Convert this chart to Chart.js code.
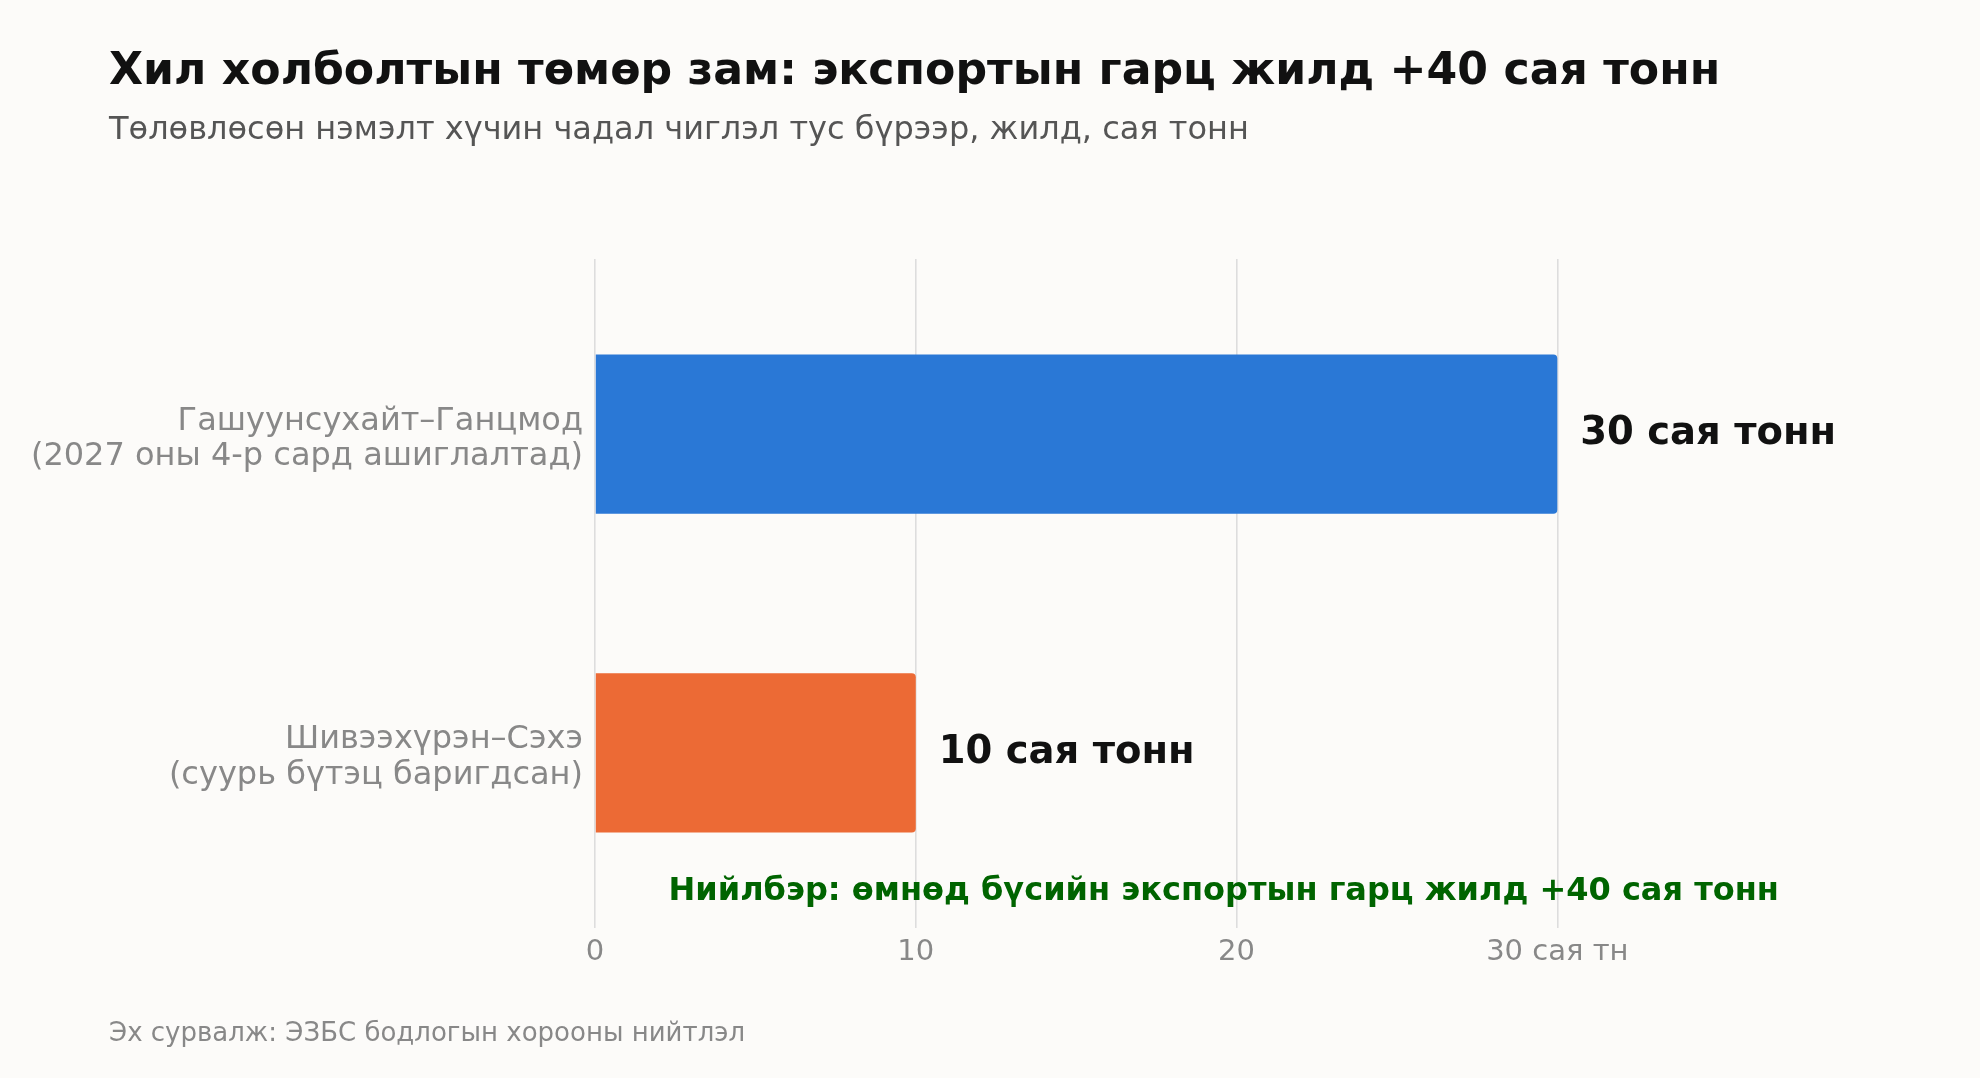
<!DOCTYPE html>
<html>
<head>
<meta charset="utf-8">
<script src="https://cdn.jsdelivr.net/npm/chart.js@4"></script>
<style>
  html, body { margin: 0; padding: 0; background: #fcfbf9; }
  #wrap { width: 1980px; height: 1078px; position: relative; }
</style>
</head>
<body>
<div id="wrap"><canvas id="myChart"></canvas></div>
<script>
// data
const routes = ['Гашуунсухайт–Ганцмод', 'Шивээхүрэн–Сэхэ'];
const routeNotes = ['(2027 оны 4-р сард ашиглалтад)', '(суурь бүтэц баригдсан)'];
const capacity = [30, 10];
const barColors = ['#2a78d6', '#ec6a35'];
const xTickValues = [0, 10, 20, 30];
const xTickLabels = ['0', '10', '20', '30 сая тн'];

const titleText = 'Хил холболтын төмөр зам: экспортын гарц жилд +40 сая тонн';
const subtitleText = 'Төлөвлөсөн нэмэлт хүчин чадал чиглэл тус бүрээр, жилд, сая тонн';
const totalNote = 'Нийлбэр: өмнөд бүсийн экспортын гарц жилд +40 сая тонн';
const sourceText = 'Эх сурвалж: ЭЗБС бодлогын хорооны нийтлэл';

const FONT = '"DejaVu Sans", sans-serif';

const textPlugin = {
    id: 'texts',
    afterDraw(chart) {
        const ctx = chart.ctx;
        const x = chart.scales.x;
        const y = chart.scales.y;
        ctx.save();
        ctx.textBaseline = 'middle';

        ctx.textAlign = 'left';
        ctx.fillStyle = '#111111';
        ctx.font = 'bold 44.2px ' + FONT;
        ctx.fillText(titleText, 109, 73);

        ctx.fillStyle = '#555555';
        ctx.font = '32px ' + FONT;
        ctx.fillText(subtitleText, 109, 131);

        ctx.fillStyle = '#888888';
        ctx.font = '26px ' + FONT;
        ctx.fillText(sourceText, 109, 1034);

        // value labels at the bar ends
        ctx.fillStyle = '#111111';
        ctx.font = 'bold 38.5px ' + FONT;
        chart.getDatasetMeta(0).data.forEach((bar, i) => {
            ctx.fillText(capacity[i] + ' сая тонн', bar.x + 23, bar.y);
        });

        // total note
        ctx.textAlign = 'center';
        ctx.fillStyle = '#006400';
        ctx.font = 'bold 32px ' + FONT;
        ctx.fillText(totalNote, x.getPixelForValue(19.6), y.getPixelForValue(1.435));
        ctx.restore();
    }
};

const bgPlugin = {
    id: 'bg',
    beforeDraw(chart) {
        const ctx = chart.ctx;
        ctx.save();
        ctx.fillStyle = '#fcfbf9';
        ctx.fillRect(0, 0, chart.width, chart.height);
        ctx.restore();
    }
};

new Chart(document.getElementById('myChart'), {
    type: 'bar',
    data: {
        datasets: [{
            data: capacity.map((v, i) => ({ x: v, y: i })),
            backgroundColor: barColors,
            borderWidth: 0,
            borderRadius: 4,
            borderSkipped: 'start',
            barPercentage: 0.5,
            categoryPercentage: 1
        }]
    },
    options: {
        indexAxis: 'y',
        responsive: true,
        maintainAspectRatio: false,
        animation: false,
        layout: { padding: { top: 259, right: 134, bottom: 0, left: 0 } },
        plugins: {
            legend: { display: false },
            tooltip: { enabled: false }
        },
        scales: {
            x: {
                type: 'linear',
                min: 0,
                max: 39,
                offset: false,
                afterBuildTicks(scale) {
                    scale.ticks = xTickValues.map(v => ({ value: v }));
                },
                afterFit(scale) { scale.height = 150; },
                ticks: {
                    padding: 7,
                    color: '#888888',
                    font: { family: FONT, size: 29 },
                    callback: (v) => xTickLabels[xTickValues.indexOf(v)]
                },
                grid: { color: '#dddddd', lineWidth: 1.6, drawTicks: false, offset: false },
                border: { display: false }
            },
            y: {
                type: 'linear',
                reverse: true,
                min: -0.55,
                max: 1.55,
                offset: false,
                afterBuildTicks(scale) {
                    scale.ticks = routes.map((r, i) => ({ value: i }));
                },
                afterFit(scale) { scale.width = 595; },
                ticks: {
                    padding: 4,
                    labelOffset: 5,
                    color: '#888888',
                    font: { family: FONT, size: 32, lineHeight: 1.1 },
                    callback: (v) => [routes[v], routeNotes[v]]
                },
                grid: { display: false, offset: false },
                border: { display: false }
            }
        }
    },
    plugins: [bgPlugin, textPlugin]
});
</script>
</body>
</html>
